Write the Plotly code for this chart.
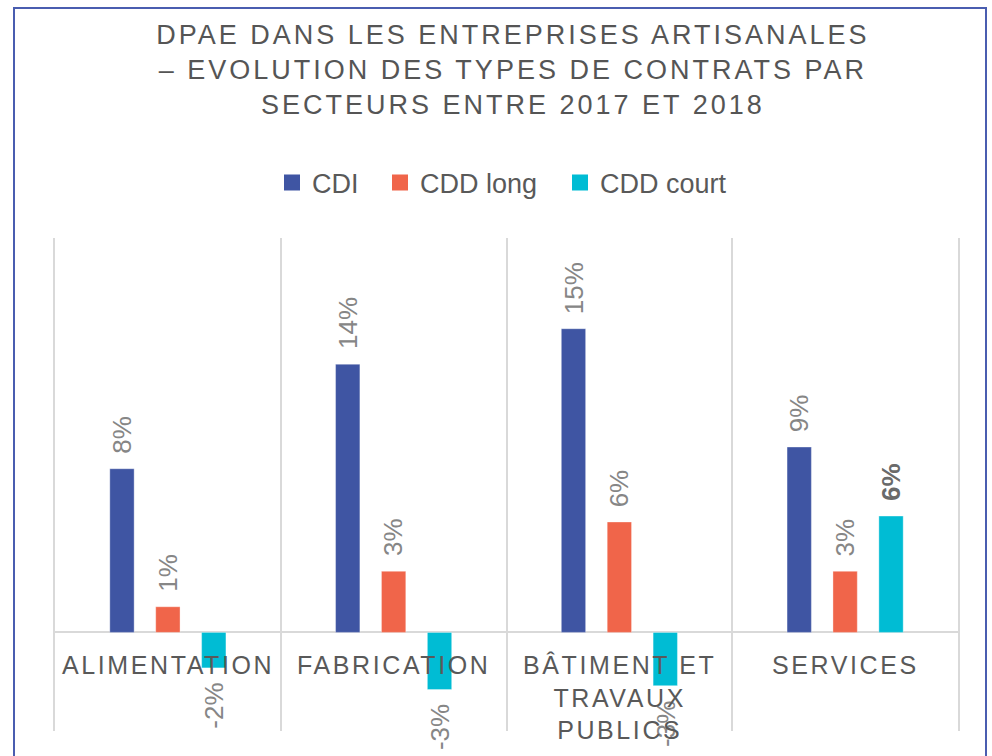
import plotly.graph_objects as go

# ---- data ----
categories = ["ALIMENTATION", "FABRICATION", "BÂTIMENT ET<br>TRAVAUX<br>PUBLICS", "SERVICES"]
series_names = ["CDI", "CDD long", "CDD court"]
cdi = [8.3, 13.6, 15.4, 9.4]
cdd_long = [1.3, 3.1, 5.6, 3.1]
cdd_court = [-1.8, -2.9, -2.7, 5.9]
title_lines = ["DPAE DANS LES ENTREPRISES ARTISANALES",
               "– EVOLUTION DES TYPES DE CONTRATS PAR",
               "SECTEURS ENTRE 2017 ET 2018"]

colors = ["#3F55A3", "#F0654A", "#00BCD4"]
FONT = "Liberation Sans"
BARGAP = 0.39
GROUPGAP = 0.47
slot = (1 - BARGAP) / 3
PW, PH, L, T = 903, 493, 55, 238
legend_px = [284, 392, 572]  # left edge of each legend swatch (pixels)


def spaced(text, px):
    return "<br>".join(f'<span style="letter-spacing:{px}px">{ln}</span>' for ln in text.split("<br>"))


x_idx = list(range(len(categories)))
fig = go.Figure()
all_series = [cdi, cdd_long, cdd_court]
legend_ids = ["legend", "legend2", "legend3"]
for k, (name, vals, col) in enumerate(zip(series_names, all_series, colors)):
    fig.add_trace(go.Bar(
        x=x_idx, y=vals, name=name, showlegend=False,
        marker=dict(color=col, line=dict(color="rgba(255,255,255,0.35)", width=1)),
        hoverinfo="skip",
    ))
    # legend entry with a larger square swatch
    fig.add_trace(go.Scatter(
        x=[None], y=[None], mode="markers", name=name, legend=legend_ids[k],
        marker=dict(symbol="square", size=16, color=col),
    ))
    for i, v in enumerate(vals):
        emph = (k == 2 and v > 0)
        txt = f"{v:.0f}%"
        fig.add_annotation(
            x=i + (k - 1) * slot, y=v, xref="x", yref="y",
            text=f"<b>{txt}</b>" if emph else txt,
            textangle=-90, showarrow=False,
            yanchor="bottom" if v >= 0 else "top",
            yshift=13 if v >= 0 else -13,
            font=dict(family=FONT, size=26, color="#6A6A6A" if emph else "#868686"),
        )

for i, c in enumerate(categories):
    fig.add_annotation(
        x=i, y=0, xref="x", yref="y", text=spaced(c, 2.6),
        showarrow=False, yanchor="top", yshift=-17,
        font=dict(family=FONT, size=25, color="#595959"),
    )

# frame
fig.add_shape(type="rect", xref="paper", yref="paper",
              x0=(14 - L) / PW, x1=(986 - L) / PW,
              y0=(PH + T - 775) / PH, y1=(PH + T - 8) / PH,
              line=dict(color="#4A5DB0", width=2), layer="above")

legend_common = dict(orientation="h", y=1.1116, yanchor="middle", xanchor="left",
                     font=dict(family=FONT, size=27, color="#595959"), itemwidth=30,
                     bgcolor="rgba(0,0,0,0)")
legends = {}
for k, lid in enumerate(legend_ids):
    legends[lid] = dict(legend_common, x=(legend_px[k] - 12 - L) / PW)

fig.update_layout(
    width=992, height=756,
    margin=dict(l=55, r=34, t=238, b=25),
    paper_bgcolor="white", plot_bgcolor="white",
    barmode="group", bargap=BARGAP, bargroupgap=GROUPGAP,
    title=dict(text="<br>".join(f'<span style="letter-spacing:3px">{t}</span>' for t in title_lines),
               x=0.517, xanchor="center", xref="container",
               y=0.9416, yanchor="top", yref="container",
               font=dict(family=FONT, size=27, color="#555555")),
    xaxis=dict(range=[-0.5, 3.5], tickvals=[0.5, 1.5, 2.5], showticklabels=False, ticks="",
               showgrid=True, gridcolor="#D9D9D9", gridwidth=1.5, zeroline=False, fixedrange=True),
    yaxis=dict(range=[-5, 20], showticklabels=False, ticks="", showgrid=False,
               zeroline=True, zerolinecolor="#D9D9D9", zerolinewidth=2,
               showline=True, mirror=True, linecolor="#D9D9D9", linewidth=1.5, fixedrange=True),
    showlegend=True,
    **legends,
)

fig.write_html("out.html", config={"displayModeBar": False},
               post_script="document.body.style.margin='0';")
